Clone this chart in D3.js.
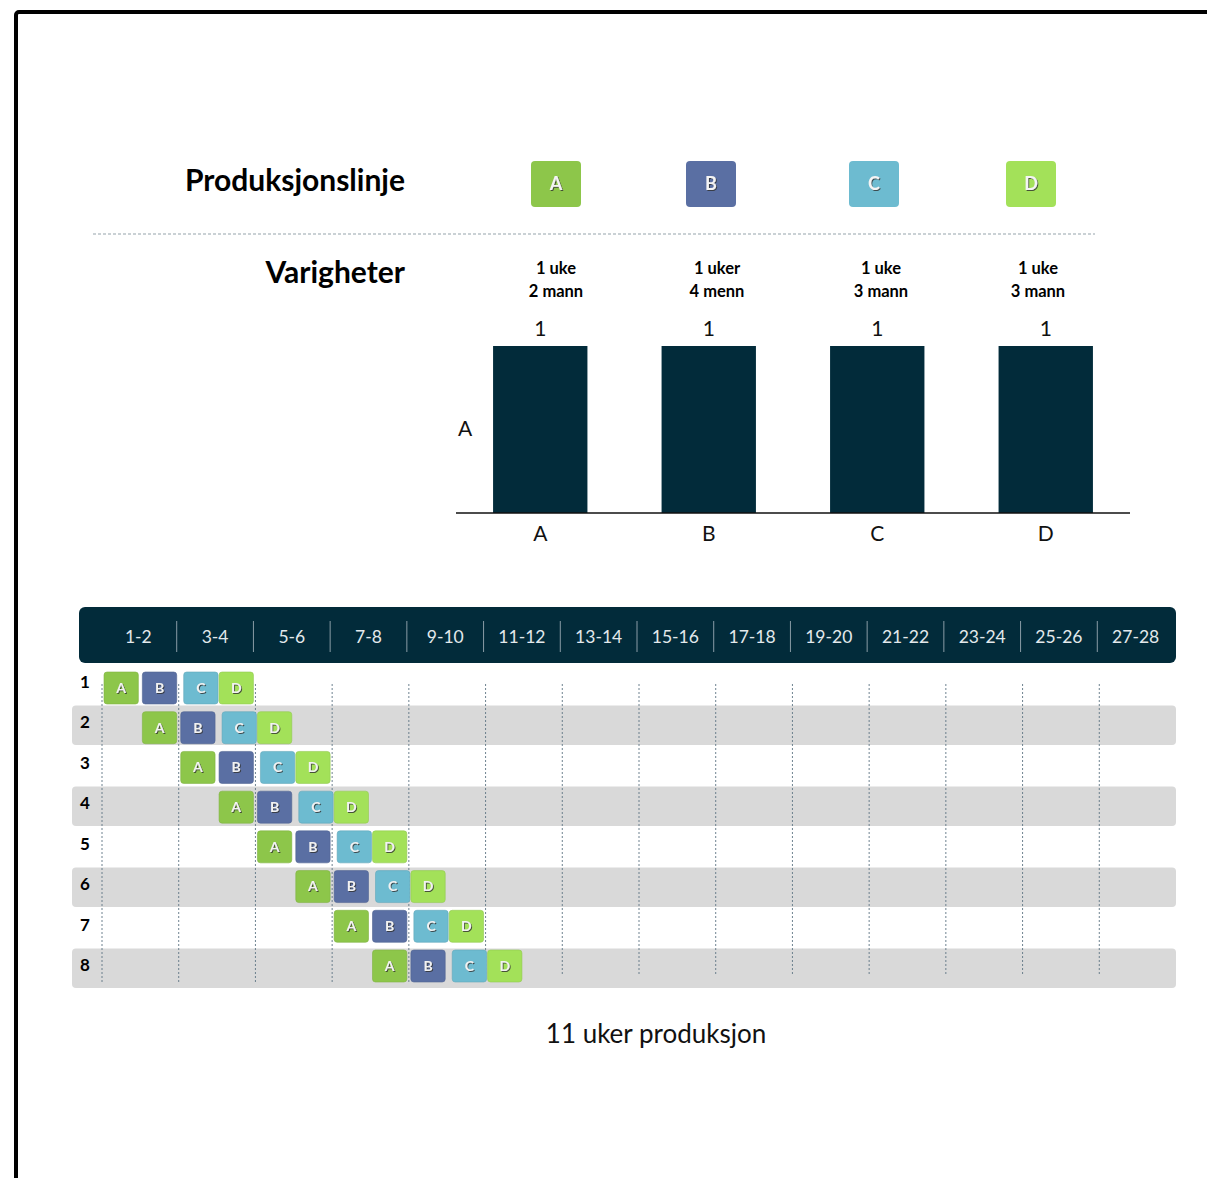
<!DOCTYPE html>
<html>
<head>
<meta charset="utf-8">
<script src="https://cdn.jsdelivr.net/npm/d3@7"></script>
<style>
  body { margin: 0; background: #fff; }
  text { font-family: Lato, "Open Sans", sans-serif; }
</style>
</head>
<body>
<div id="chart-area"></div>
<script>
// data
var lines = ["A", "B", "C", "D"];
var durationText = ["1 uke", "1 uker", "1 uke", "1 uke"];
var crewText = ["2 mann", "4 menn", "3 mann", "3 mann"];
var durationWeeks = [1, 1, 1, 1];
var weekLabels = ["1-2", "3-4", "5-6", "7-8", "9-10", "11-12", "13-14",
	"15-16", "17-18", "19-20", "21-22", "23-24", "25-26", "27-28"];
var units = [1, 2, 3, 4, 5, 6, 7, 8];
var startWeeks = [0, 1, 2, 3, 4, 5, 6, 7];
var totalText = "11 uker produksjon";

var W = 1207, H = 1178;
var dark = "#022b3a";
var color = d3.scaleOrdinal().domain(lines)
	.range(["#8dc64a", "#5a6fa3", "#6dbbd0", "#a3e159"]);

var svg = d3.select("#chart-area").append("svg")
	.attr("width", W).attr("height", H);

// shadow for the letters in the boxes
var defs = svg.append("defs");
defs.append("filter").attr("id", "shadow")
	.append("feDropShadow")
		.attr("dx", 1).attr("dy", 1).attr("stdDeviation", 0.4)
		.attr("flood-color", "#333").attr("flood-opacity", 0.8);

// frame
svg.append("rect")
	.attr("x", 16).attr("y", 12)
	.attr("width", 1400).attr("height", 1400).attr("rx", 3)
	.attr("fill", "none").attr("stroke", "#000").attr("stroke-width", 4);

/********** legend / header **********/
svg.append("text")
	.attr("x", 405).attr("y", 191)
	.attr("text-anchor", "end")
	.style("font-size", "30px").style("font-weight", "bold")
	.text("Produksjonslinje");

var legendPos = [556, 711, 874, 1031];
var legend = svg.selectAll(".legend").data(lines).enter().append("g")
	.attr("class", "legend")
	.attr("transform", (d, i) => "translate(" + legendPos[i] + ",184)");
legend.append("rect")
	.attr("x", -25).attr("y", -23).attr("width", 50).attr("height", 46).attr("rx", 4)
	.attr("fill", d => color(d));
legend.append("text")
	.attr("text-anchor", "middle").attr("dy", "0.36em")
	.attr("fill", "#f4f4f4").attr("filter", "url(#shadow)")
	.style("font-size", "18px").style("font-weight", "bold")
	.text(d => d);

svg.append("line")
	.attr("x1", 93).attr("x2", 1095).attr("y1", 234).attr("y2", 234)
	.attr("stroke", "#95a3ab").attr("stroke-width", 1.2)
	.attr("stroke-dasharray", "3,2");

svg.append("text")
	.attr("x", 405).attr("y", 283)
	.attr("text-anchor", "end")
	.style("font-size", "30px").style("font-weight", "bold")
	.text("Varigheter");

var durX = [556, 717, 881, 1038];
lines.forEach(function(d, i) {
	var t = svg.append("text")
		.attr("text-anchor", "middle")
		.style("font-size", "16.5px").style("font-weight", "bold");
	t.append("tspan").attr("x", durX[i]).attr("y", 274).text(durationText[i]);
	t.append("tspan").attr("x", durX[i]).attr("y", 297).text(crewText[i]);
});

/********** bar chart **********/
var bx = d3.scaleBand().domain(lines).range([456, 1130])
	.paddingInner(0.44).paddingOuter(0.22);
var by = d3.scaleLinear().domain([0, 1]).range([513, 346]);

svg.selectAll(".bar").data(lines).enter().append("rect")
	.attr("class", "bar")
	.attr("x", d => bx(d))
	.attr("width", bx.bandwidth())
	.attr("y", (d, i) => by(durationWeeks[i]))
	.attr("height", (d, i) => by(0) - by(durationWeeks[i]))
	.attr("fill", dark);

svg.selectAll(".barlabel").data(lines).enter().append("text")
	.attr("class", "barlabel")
	.attr("x", d => bx(d) + bx.bandwidth() / 2)
	.attr("y", (d, i) => by(durationWeeks[i]) - 10)
	.attr("text-anchor", "middle")
	.style("font-size", "21px").attr("fill", "#111")
	.text((d, i) => durationWeeks[i]);

var xAxis = svg.append("g")
	.attr("transform", "translate(0," + by(0) + ")")
	.call(d3.axisBottom(bx).tickSize(0).tickPadding(13));
xAxis.select(".domain").attr("d", "M456,0H1130").attr("stroke", "#111").attr("stroke-width", 1.5);
xAxis.selectAll("text").style("font-size", "21px").style("font-family", "Lato, sans-serif").attr("fill", "#111");

svg.append("text")
	.attr("x", 465).attr("y", 429).attr("dy", "0.35em")
	.attr("text-anchor", "middle")
	.style("font-size", "21px").attr("fill", "#111")
	.text("A");

/********** gantt **********/
var x = d3.scaleLinear().domain([0, 28]).range([101, 1175]);
var y = d3.scaleBand().domain(units).range([664.5, 988.5]);
// box centres sit a little tighter than the stripes
var yBox = d3.scalePoint().domain(units).range([688, 966]);

// header bar
svg.append("rect")
	.attr("x", 79).attr("y", 607).attr("width", 1097).attr("height", 56).attr("rx", 6)
	.attr("fill", dark);
svg.selectAll(".wklabel").data(weekLabels).enter().append("text")
	.attr("class", "wklabel")
	.attr("x", (d, i) => x(i * 2 + 1) - 1)
	.attr("y", 637).attr("dy", "0.35em")
	.attr("text-anchor", "middle")
	.attr("fill", "#e3e9ec")
	.style("font-size", "17.5px")
	.text(d => d);
svg.selectAll(".sep").data(d3.range(1, weekLabels.length)).enter().append("line")
	.attr("class", "sep")
	.attr("x1", d => x(d * 2) - 1).attr("x2", d => x(d * 2) - 1)
	.attr("y1", 621).attr("y2", 652)
	.attr("stroke", "#8a9ca6").attr("stroke-width", 1);

// row stripes
svg.selectAll(".stripe").data(units.filter(d => d % 2 === 0)).enter().append("rect")
	.attr("class", "stripe")
	.attr("x", 72).attr("width", 1104)
	.attr("y", d => y(d) + 0.5).attr("height", y.bandwidth() - 1)
	.attr("rx", 4)
	.attr("fill", "#d9d9d9");

// grid lines
svg.selectAll(".grid").data(d3.range(0, 28, 2)).enter().append("line")
	.attr("class", "grid")
	.attr("x1", d => x(d) + 1).attr("x2", d => x(d) + 1)
	.attr("y1", 684).attr("y2", d => d < 9 ? 982 : 975)
	.attr("stroke", "#5f7583").attr("stroke-width", 0.9)
	.attr("stroke-dasharray", "2,2");

// row numbers
svg.selectAll(".rowlabel").data(units).enter().append("text")
	.attr("class", "rowlabel")
	.attr("x", 85)
	.attr("y", d => y(d) + y.bandwidth() / 2 - 3).attr("dy", "0.35em")
	.attr("text-anchor", "middle")
	.style("font-size", "17px").style("font-weight", "bold")
	.text(d => d);

// task boxes
var tasks = [];
units.forEach(function(u, r) {
	var w = startWeeks[r];
	lines.forEach(function(l, i) {
		tasks.push({unit: u, line: l, start: w, end: w + durationWeeks[i]});
		w += durationWeeks[i];
	});
});

var box = svg.selectAll(".task").data(tasks).enter().append("g")
	.attr("class", "task")
	.attr("transform", d => "translate(" + (x(d.start) + 3 + (d.line === "C" ? 3 : 0)) + "," + (yBox(d.unit) - 16) + ")");
box.append("rect")
	.attr("width", d => x(d.end) - x(d.start) - 4).attr("height", 32).attr("rx", 3)
	.attr("fill", d => color(d.line))
	.attr("stroke", d => d3.color(color(d.line)).darker(0.3)).attr("stroke-width", 0.6);
box.append("text")
	.attr("x", d => (x(d.end) - x(d.start) - 4) / 2).attr("y", 16).attr("dy", "0.35em")
	.attr("text-anchor", "middle")
	.attr("fill", "#f2f2f2").attr("filter", "url(#shadow)")
	.style("font-size", "14px").style("font-weight", "bold")
	.text(d => d.line);

// total
svg.append("text")
	.attr("x", 656).attr("y", 1034).attr("dy", "0.35em")
	.attr("text-anchor", "middle")
	.style("font-size", "26px").attr("fill", "#111")
	.text(totalText);
</script>
</body>
</html>
